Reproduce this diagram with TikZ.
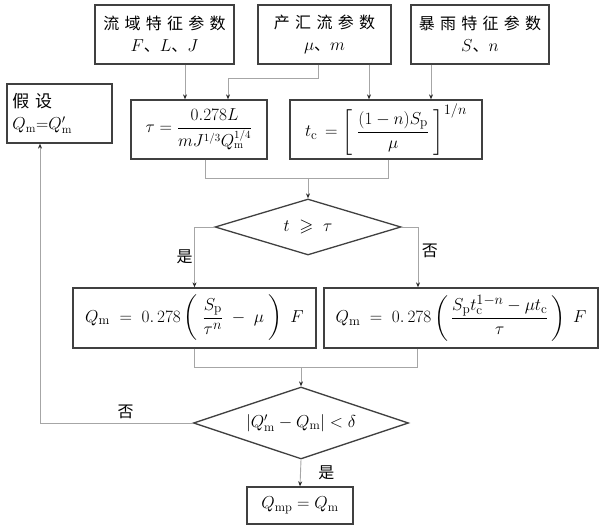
\documentclass[tikz,border=0pt]{standalone}
\usepackage{amsmath}
\usepackage{amssymb}
\usepackage{fontspec}
\newfontfamily\cjk[LetterSpace=33]{Noto Sans CJK SC}
\newfontfamily\cjkn{Noto Sans CJK SC}
\usetikzlibrary{ % tikz packages
    shapes.geometric,positioning,
    arrows.meta
}
\tikzset{box/.style={
    draw=black!75,
    line width=1.3pt,
    inner sep=2pt,
    minimum height=59pt
}}
\tikzset{parbox/.style={
    box,
    align=center,
    font=\cjk\fontsize{16}{22}\selectfont
}}
\tikzset{test/.style={
    diamond,
    draw=black!75,
    line width=1.3pt,
    inner sep=0pt
}}
\tikzset{link/.style={
    draw=black!35,
    line width=0.9pt
}}
\tikzset{answer/.style={
    font=\cjkn\fontsize{16}{20}\selectfont
}}
\tikzset{>={Stealth[length=5pt,width=4pt,color=black!85]}}

\begin{document}
\begin{tikzpicture}[x=1pt,y=-1pt,font=\fontsize{18}{22}\selectfont]
            \useasboundingbox (0,0) rectangle (600,526);

            % input parameters
            \node[parbox, minimum width=139pt] (basin) at (164.5,34.5)
                {流域特征参数\\$F$、$L$、$J$};
            \node[parbox, minimum width=133pt] (runoff) at (324.5,34.5)
                {产汇流参数\\$\mu$、$m$};
            \node[parbox, minimum width=138pt] (storm) at (480,34.5)
                {暴雨特征参数\\$S$、$n$};

            \node[box, minimum width=105pt, text width=96pt, inner sep=4pt, align=left,
                font=\fontsize{17}{22}\selectfont] (assume) at (59.5,113.5)
                {\hspace{1pt}{\cjk 假设}\\\hspace{1pt}$Q_{\mathrm{m}}$=$Q'_{\mathrm{m}}$};
            \node[box, minimum width=136pt, font=\fontsize{16}{20}\selectfont] (tau) at (199,129.5)
                {$\tau=\dfrac{0.278L}{mJ^{1/3}Q_{\mathrm{m}}^{1/4}}$};
            \node[box, minimum width=192pt, font=\fontsize{19}{22}\selectfont] (tc) at (386,129.5)
                {$t_{\mathrm{c}}\,=\left[\;\dfrac{(1-n)S_{\mathrm{p}}}{\mu}\;\right]^{1/n}$};

            \node[test, aspect=3.3, minimum width=186pt, minimum height=56pt] (test1) at (308,227)
                {$t\;\geqslant\;\tau$};

            % peak discharge
            \node[box, minimum width=243pt, minimum height=60pt, font=\fontsize{19}{22}\selectfont] (qa) at (194.5,318)
                {$Q_{\mathrm{m}}\;=\;0.\,278\left(\;\dfrac{S_{\mathrm{p}}}{\tau^n}\;-\;\mu\;\right)\;F$};
            \node[box, minimum width=274pt, minimum height=60pt, font=\fontsize{19}{22}\selectfont] (qb) at (461,318)
                {$Q_{\mathrm{m}}\;=\;0.\,278\left(\,\dfrac{S_{\mathrm{p}}t_{\mathrm{c}}^{1-n}-\mu t_{\mathrm{c}}}{\tau}\,\right)\;F$};

            \node[test, aspect=3, minimum width=215pt, minimum height=72pt] (test2) at (301,423)
                {$|Q'_{\mathrm{m}}-Q_{\mathrm{m}}|<\delta$};

            \node[box, minimum width=106pt, minimum height=37pt] (res) at (300,505.5)
                {$Q_{\mathrm{mp}}=Q_{\mathrm{m}}$};

            \coordinate (m1) at (228,78);
            \coordinate (m2) at (308,178);
            \coordinate (m3) at (301,367);

            \draw[link,->] ([xshift=20.5pt]basin.south) -- ([xshift=20.5pt]basin.south |- tau.north);
            \draw[link,->] ([xshift=-6.5pt]runoff.south) |- (m1) -- (m1 |- tau.north);
            \draw[link,->] ([xshift=44.5pt]runoff.south) -- ([xshift=44.5pt]runoff.south |- tc.north);
            \draw[link,->] ([xshift=-49pt]storm.south) -- ([xshift=-49pt]storm.south |- tc.north);

            \draw[link] ([xshift=6pt]tau.south) |- (m2);
            \draw[link] ([xshift=2pt]tc.south) |- (m2);
            \draw[link,->] (m2) -- (test1.north);

            \draw[link,->] (test1.west) -| node[answer,pos=0.75,left,xshift=2pt] {是} (qa.north);
            \draw[link,->] (test1.east) -| node[answer,pos=0.7,right] {否} ([xshift=-43pt]qb.north);

            \draw[link] ([xshift=-0.5pt]qa.south) |- (m3);
            \draw[link] ([xshift=-44pt]qb.south) |- (m3);
            \draw[link,->] (m3) -- (test2.north);

            \draw[link,->] (test2.west) -| node[answer,pos=0.22,above] {否} ([xshift=-19.5pt]assume.south);
            \draw[link,->] (test2.south) -- node[answer,right,xshift=14pt] {是} (res.north);
        \end{tikzpicture}
\end{document}
